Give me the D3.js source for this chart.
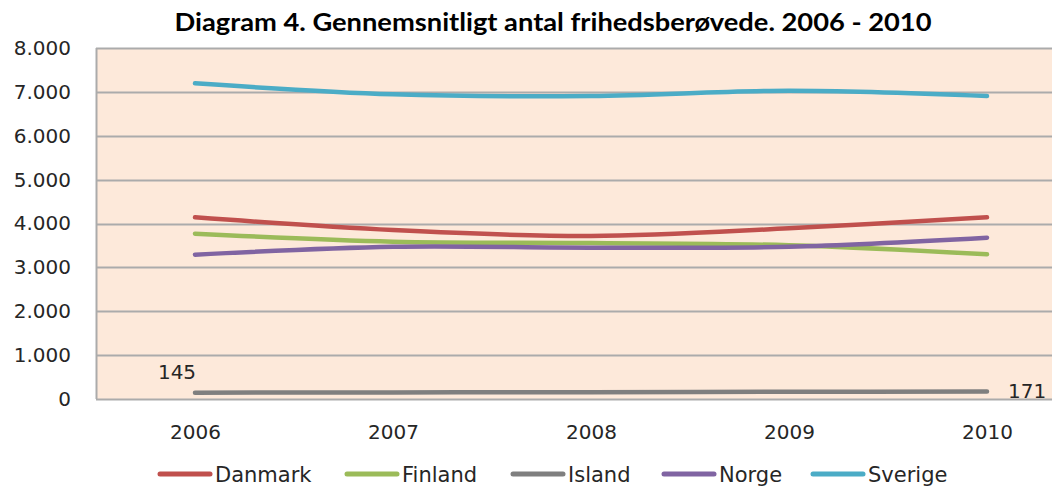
<!DOCTYPE html>
<html>
<head>
<meta charset="utf-8">
<script src="https://cdn.jsdelivr.net/npm/d3@7"></script>
<style>
  body { margin: 0; background: #fff; }
  svg { display: block; }
</style>
</head>
<body>
<div id="chart"></div>
<script>
// data
var years = ["2006", "2007", "2008", "2009", "2010"];
var countries = ["Danmark", "Finland", "Island", "Norge", "Sverige"];
var colors = ["#C0504D", "#9BBB59", "#7F7F7F", "#8064A2", "#4BACC6"];
var danmark = [4140, 3850, 3715, 3890, 4140];
var finland = [3767, 3585, 3555, 3505, 3297];
var island = [145, 150, 155, 165, 171];
var norge = [3290, 3470, 3450, 3471, 3676];
var sverige = [7195, 6945, 6905, 7025, 6905];
var yTicks = [0, 1000, 2000, 3000, 4000, 5000, 6000, 7000, 8000];

var series = [danmark, finland, island, norge, sverige];

var W = 1052, H = 486;
var margin = {top: 48, left: 96, bottom: 87};
var plotH = H - margin.top - margin.bottom;

var svg = d3.select("#chart")
  .append("svg")
  .attr("width", W)
  .attr("height", H);

// title
svg.append("text")
  .attr("x", 553)
  .attr("y", 31)
  .attr("text-anchor", "middle")
  .attr("textLength", 757)
  .attr("lengthAdjust", "spacingAndGlyphs")
  .style("font-family", "Lato, 'Open Sans', sans-serif")
  .style("font-weight", "bold")
  .style("font-size", "24px")
  .style("fill", "#000")
  .text("Diagram 4. Gennemsnitligt antal frihedsberøvede. 2006 - 2010");

var g = svg.append("g")
  .attr("transform", "translate(" + margin.left + "," + margin.top + ")");

// x: point scale, 198px between years, plot runs past the right edge
var x = d3.scalePoint()
  .domain(years)
  .range([99, 99 + 198 * 4]);

var y = d3.scaleLinear()
  .domain([0, 8000])
  .range([plotH, 0]);

// plot background
g.append("rect")
  .attr("x", 0)
  .attr("y", 0)
  .attr("width", W - margin.left)
  .attr("height", plotH)
  .attr("fill", "#FDE9DA");

// gridlines
g.selectAll(".grid")
  .data(yTicks)
  .enter()
  .append("line")
  .attr("x1", 0)
  .attr("x2", W - margin.left)
  .attr("y1", function(d) { return Math.round(y(d)) + 0.5; })
  .attr("y2", function(d) { return Math.round(y(d)) + 0.5; })
  .attr("stroke", "#ABABAB")
  .attr("stroke-width", 2);

// left axis line
g.append("line")
  .attr("x1", 0.5).attr("x2", 0.5)
  .attr("y1", 0).attr("y2", plotH)
  .attr("stroke", "#ABABAB")
  .attr("stroke-width", 2);

// y axis labels
var fmt = function(d) { return d3.format(",")(d).replace(/,/g, "."); };
var yAxis = g.append("g")
  .call(d3.axisLeft(y).tickValues(yTicks).tickFormat(fmt).tickSize(0).tickPadding(25));
yAxis.select(".domain").remove();
yAxis.selectAll("text")
  .style("font-family", "'DejaVu Sans', sans-serif")
  .style("font-size", "20px")
  .style("fill", "#262626");

// x axis labels
var xAxis = g.append("g")
  .attr("transform", "translate(0," + plotH + ")")
  .call(d3.axisBottom(x).tickSize(0).tickPadding(26));
xAxis.select(".domain").remove();
xAxis.selectAll("text")
  .style("font-family", "'DejaVu Sans', sans-serif")
  .style("font-size", "20px")
  .style("fill", "#262626");

// lines
var line = d3.line()
  .x(function(d, i) { return x(years[i]); })
  .y(function(d) { return y(d); })
  .curve(d3.curveCatmullRom.alpha(0.5));

g.selectAll(".series")
  .data(series)
  .enter()
  .append("path")
  .attr("d", line)
  .attr("fill", "none")
  .attr("stroke", function(d, i) { return colors[i]; })
  .attr("stroke-width", 4.5)
  .attr("stroke-linecap", "round");

// data labels for Island
g.append("text")
  .attr("x", x(years[0]) - 18)
  .attr("y", y(island[0]) - 14)
  .attr("text-anchor", "middle")
  .style("font-family", "'DejaVu Sans', sans-serif")
  .style("font-size", "20px")
  .style("fill", "#262626")
  .text(island[0]);

g.append("text")
  .attr("x", x(years[4]) + 21)
  .attr("y", y(island[4]) + 7)
  .attr("text-anchor", "start")
  .style("font-family", "'DejaVu Sans', sans-serif")
  .style("font-size", "20px")
  .style("fill", "#262626")
  .text(island[4]);

// legend
var legendX = [158, 345, 511, 662, 811];
var legend = svg.selectAll(".legend")
  .data(countries)
  .enter()
  .append("g")
  .attr("transform", function(d, i) { return "translate(" + legendX[i] + ",474)"; });

legend.append("line")
  .attr("x1", 2).attr("x2", 52)
  .attr("y1", 0).attr("y2", 0)
  .attr("stroke", function(d, i) { return colors[i]; })
  .attr("stroke-width", 5)
  .attr("stroke-linecap", "round");

legend.append("text")
  .attr("x", 57)
  .attr("y", 8)
  .style("font-family", "'DejaVu Sans', sans-serif")
  .style("font-size", "21px")
  .style("fill", "#262626")
  .text(function(d) { return d; });
</script>
</body>
</html>
